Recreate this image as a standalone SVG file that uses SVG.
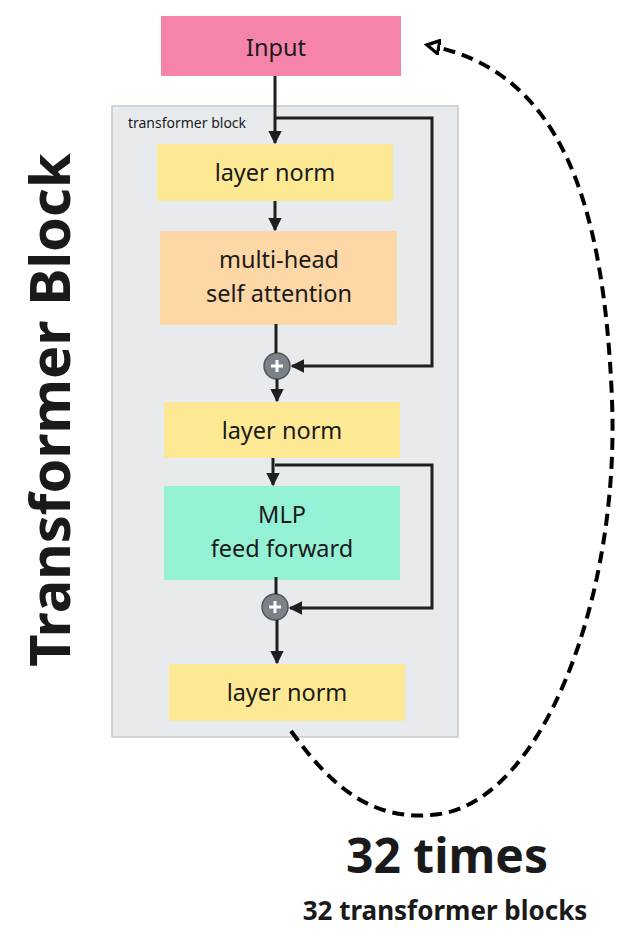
<svg xmlns="http://www.w3.org/2000/svg" width="627" height="944" viewBox="0 0 627 944">
<style>
text{font-family:"Noto Sans","Open Sans",sans-serif;fill:#1a1a1a;text-anchor:middle}
.lbl{font-size:23.5px}
.c{stroke:#1f1f1f;stroke-width:3;fill:none}
</style>
<defs>
<marker id="a" viewBox="0 0 10 10" refX="9" refY="5" markerWidth="4.5" markerHeight="4.5" orient="auto"><path d="M0,0L10,5L0,10z" fill="#1f1f1f"/></marker>
<marker id="o" viewBox="0 0 12 12" refX="10" refY="6" markerWidth="4" markerHeight="4" orient="auto"><path d="M1,1L10,6L1,11z" fill="#fff" stroke="#000" stroke-width="2.5"/></marker>
</defs>
<rect width="627" height="944" fill="#fff"/>
<g id="container"><rect x="112" y="106" width="346" height="631" fill="#e8ebee" stroke="#c8c8c8" stroke-width="1.5"/>
<text x="187" y="128" style="font-size:14px">transformer block</text></g>
<g id="input"><rect x="161" y="16" width="240" height="60" fill="#f684aa"/><text class="lbl" x="276" y="56">Input</text></g>
<g id="ln1"><rect x="157" y="144" width="236" height="57" fill="#fde993"/><text class="lbl" x="275" y="181">layer norm</text></g>
<g id="mhsa"><rect x="160" y="231" width="237" height="94" fill="#fdd7a6"/><text class="lbl" x="279" y="268">multi-head</text><text class="lbl" x="279" y="302">self attention</text></g>
<g id="plus1"><circle cx="277" cy="366" r="13" fill="#7b8289" stroke="#555" stroke-width="1.5"/><path d="M271,366h12M277,360v12" stroke="#fff" stroke-width="3"/></g>
<g id="ln2"><rect x="164" y="402" width="236" height="56" fill="#fde993"/><text class="lbl" x="282" y="439">layer norm</text></g>
<g id="mlp"><rect x="164" y="486" width="236" height="94" fill="#94f1d6"/><text class="lbl" x="282" y="523">MLP</text><text class="lbl" x="282" y="557">feed forward</text></g>
<g id="plus2"><circle cx="275" cy="607" r="13" fill="#7b8289" stroke="#555" stroke-width="1.5"/><path d="M269,607h12M275,601v12" stroke="#fff" stroke-width="3"/></g>
<g id="ln3"><rect x="169" y="664" width="236" height="57" fill="#fde993"/><text class="lbl" x="287" y="701">layer norm</text></g>
<g id="connectors">
<path class="c" d="M275,76V143" marker-end="url(#a)"/>
<path class="c" d="M275,118H432V366H292" marker-end="url(#a)"/>
<path class="c" d="M275,201V230" marker-end="url(#a)"/>
<path class="c" d="M276,324V353"/>
<path class="c" d="M277,379V401" marker-end="url(#a)"/>
<path class="c" d="M273,458V485" marker-end="url(#a)"/>
<path class="c" d="M275,465H432V608H290" marker-end="url(#a)"/>
<path class="c" d="M276,577V594"/>
<path class="c" d="M277,620V663" marker-end="url(#a)"/>
<path d="M291,731C330,785 370,820 430,815C540,810 620,600 612,400C604,200 560,70 427,45" fill="none" stroke="#000" stroke-width="4" stroke-dasharray="12,7" marker-end="url(#o)"/>
</g>
<text x="447" y="873" style="font-size:48px;font-weight:bold">32 times</text>
<text x="445" y="920" style="font-size:26px;font-weight:bold">32 transformer blocks</text>
<text transform="translate(70,410) rotate(-90)" style="font-size:56px;font-weight:bold">Transformer Block</text>
</svg>
